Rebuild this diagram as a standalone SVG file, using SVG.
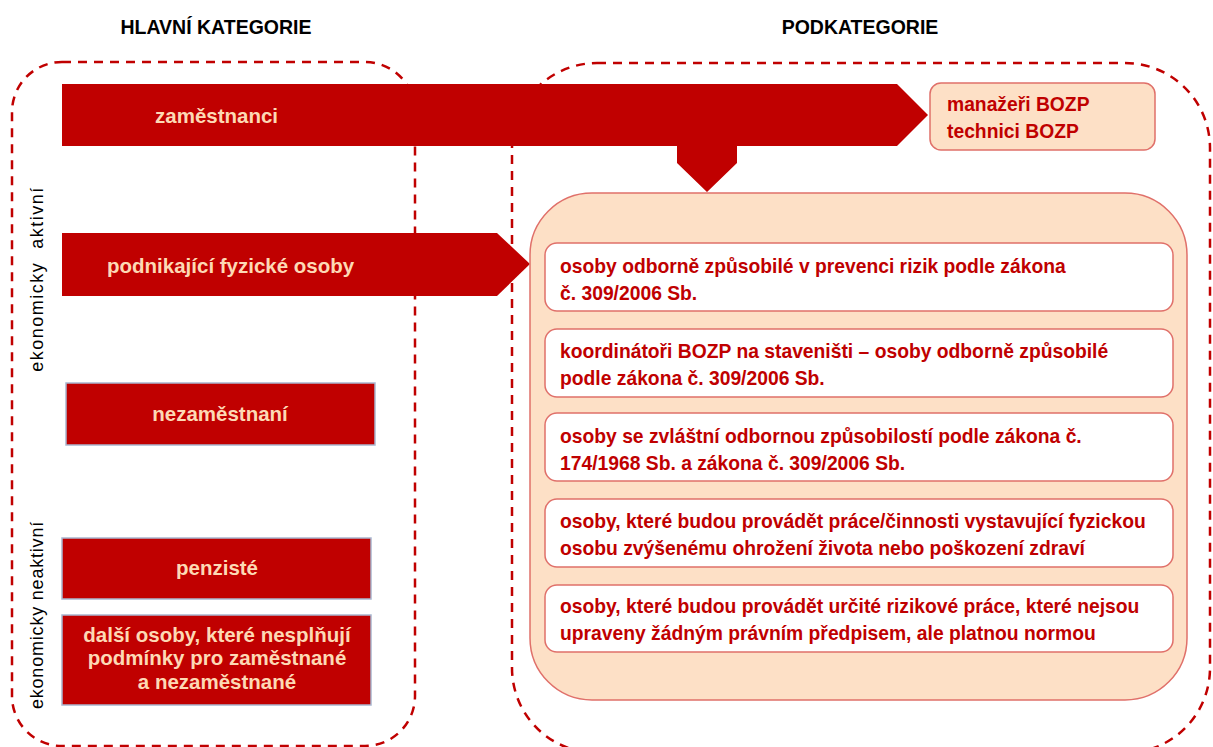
<svg xmlns="http://www.w3.org/2000/svg" width="1213" height="747" viewBox="0 0 1213 747">
<style>
.title{font-family:"Liberation Sans",Arial,sans-serif;font-weight:bold;font-size:19.5px;fill:#000;text-anchor:middle}
.dash{fill:none;stroke:#C00000;stroke-width:2.5;stroke-dasharray:9 7}
.bar{fill:#C00000}
.box{fill:#C00000;stroke:#A9B7CF;stroke-width:1.5}
.bt{font-family:"Liberation Sans",Arial,sans-serif;font-weight:bold;font-size:20.5px;fill:#FDD9B5}
.side{font-family:"Liberation Sans",Arial,sans-serif;font-size:18px;fill:#000;text-anchor:middle}
.peach{fill:#FDE0C6;stroke:#E0706A;stroke-width:1.5}
.white{fill:#fff;stroke:#E0706A;stroke-width:1.5}
.st{font-family:"Liberation Sans",Arial,sans-serif;font-weight:bold;font-size:19.3px;fill:#C00000}
.mt{font-family:"Liberation Sans",Arial,sans-serif;font-weight:bold;font-size:19.3px;fill:#C00000}
</style>
<g id="frames">
<rect class="dash" x="12" y="62" width="403" height="684" rx="50"/>
<rect class="dash" x="512" y="63" width="698" height="690" rx="85"/>
</g>
<text class="title" x="216" y="34">HLAVNÍ KATEGORIE</text>
<text class="title" x="860" y="34">PODKATEGORIE</text>
<text class="side" transform="translate(43 279) rotate(-90)" letter-spacing="1.5" xml:space="preserve">ekonomicky  aktivní</text>
<text class="side" transform="translate(43 615) rotate(-90)" letter-spacing="0.8">ekonomicky neaktivní</text>
<g id="connectors">
<polygon class="bar" points="62,84 897,84 928,115 897,146 737,146 737,163 707,192 677,163 677,146 62,146"/>
<polygon class="bar" points="62,233 497,233 530,264 497,296 62,296"/>
</g>
<g id="zamestnanci"><text class="bt" x="155" y="123">zaměstnanci</text></g>
<g id="podnikajici"><text class="bt" x="107" y="273">podnikající fyzické osoby</text></g>
<g id="nezamestnani">
<rect class="box" x="66" y="383" width="309" height="62"/>
<text class="bt" x="220" y="421" text-anchor="middle">nezaměstnaní</text>
</g>
<g id="penziste">
<rect class="box" x="62" y="538" width="309" height="61"/>
<text class="bt" x="217" y="575" text-anchor="middle">penzisté</text>
</g>
<g id="dalsi">
<rect class="box" x="62" y="615" width="309" height="90"/>
<text class="bt" x="217" y="642" text-anchor="middle">další osoby, které nesplňují</text>
<text class="bt" x="217" y="665" text-anchor="middle">podmínky pro zaměstnané</text>
<text class="bt" x="217" y="689" text-anchor="middle">a nezaměstnané</text>
</g>
<g id="manazeri">
<rect class="peach" x="930" y="83" width="225" height="67" rx="11"/>
<text class="mt" x="947" y="111">manažeři BOZP</text>
<text class="mt" x="947" y="138">technici BOZP</text>
</g>
<g id="podkategorie">
<rect class="peach" x="530" y="193" width="657" height="507" rx="62"/>
</g>
<g id="p1">
<rect class="white" x="545" y="243" width="628" height="68" rx="12"/>
<text class="st" x="560" y="273">osoby odborně způsobilé v prevenci rizik podle zákona</text>
<text class="st" x="560" y="300">č. 309/2006 Sb.</text>
</g>
<g id="p2">
<rect class="white" x="545" y="329" width="628" height="68" rx="12"/>
<text class="st" x="560" y="358">koordinátoři BOZP na staveništi – osoby odborně způsobilé</text>
<text class="st" x="560" y="385">podle zákona č. 309/2006 Sb.</text>
</g>
<g id="p3">
<rect class="white" x="545" y="413" width="628" height="68" rx="12"/>
<text class="st" x="560" y="443">osoby se zvláštní odbornou způsobilostí podle zákona č.</text>
<text class="st" x="560" y="470">174/1968 Sb. a zákona č. 309/2006 Sb.</text>
</g>
<g id="p4">
<rect class="white" x="545" y="499" width="628" height="68" rx="12"/>
<text class="st" x="560" y="528">osoby, které budou provádět práce/činnosti vystavující fyzickou</text>
<text class="st" x="560" y="555">osobu zvýšenému ohrožení života nebo poškození zdraví</text>
</g>
<g id="p5">
<rect class="white" x="545" y="585" width="628" height="67" rx="12"/>
<text class="st" x="560" y="613">osoby, které budou provádět určité rizikové práce, které nejsou</text>
<text class="st" x="560" y="640">upraveny žádným právním předpisem, ale platnou normou</text>
</g>
</svg>
